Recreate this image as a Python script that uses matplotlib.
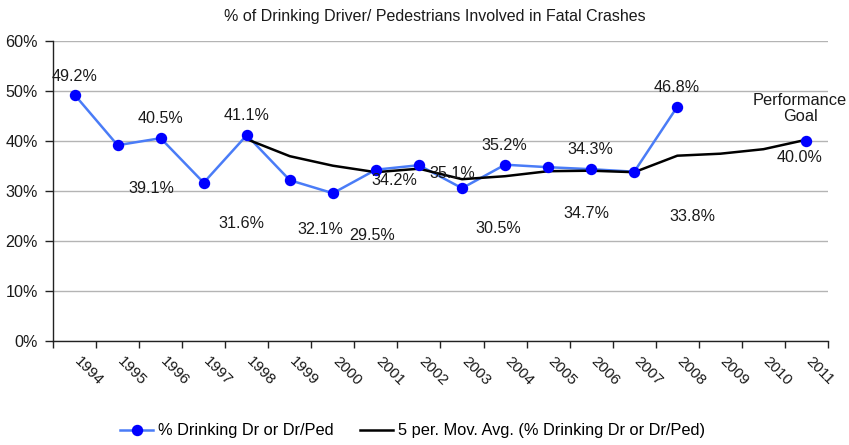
import numpy as np
import matplotlib
matplotlib.use("Agg")
import matplotlib.pyplot as plt
from matplotlib.lines import Line2D

plt.rcParams['font.family'] = ['Liberation Sans', 'DejaVu Sans']

years = [str(y) for y in range(1994, 2012)]
pct_drinking = [49.2, 39.1, 40.5, 31.6, 41.1, 32.1, 29.5, 34.2, 35.1, 30.5,
                35.2, 34.7, 34.3, 33.8, 46.8, np.nan, np.nan, 40.0]
mov_avg = [np.nan, np.nan, np.nan, np.nan, 40.3, 36.9, 35.0, 33.7, 34.4, 32.3,
           32.9, 33.9, 34.0, 33.7, 37.0, 37.4, 38.3, 40.2]
# data label text and placement (category index, percent)
label_texts = ["49.2%", "40.5%", "39.1%", "41.1%", "31.6%", "32.1%", "29.5%",
               "34.2%", "35.1%", "30.5%", "35.2%", "34.7%", "34.3%", "46.8%",
               "33.8%", "40.0%"]
label_x = [0.01, 1.99, 1.78, 3.99, 3.87, 5.71, 6.92, 7.43, 8.78, 9.85, 9.99,
           11.9, 11.97, 13.98, 14.36, 16.85]
label_y = [52.9, 44.5, 30.5, 45.1, 23.5, 22.3, 21.1, 32.0, 33.5, 22.5, 39.1,
           25.5, 38.3, 50.6, 24.9, 36.6]
yticks = [0, 10, 20, 30, 40, 50, 60]

fig = plt.figure(figsize=(8.49, 4.45), dpi=100)
ax = fig.add_axes([53/849, 1-340.7/445, 775/849, 300/445])

x = np.arange(len(years))
s = np.array(pct_drinking, dtype=float)
mask = np.isfinite(s)
ax.plot(x[:15], s[:15], color='#4a7cf7', lw=1.8, zorder=3)
ax.plot(x[mask], s[mask], ls='none', marker='o', ms=7.2, color='#0000ff', zorder=4)
ax.plot(x, mov_avg, color='black', lw=1.8, zorder=3.5)

for t, lx, ly in zip(label_texts, label_x, label_y):
    ax.text(lx, ly, t, ha='center', va='center', fontsize=11.6, color='#1a1a1a', zorder=5)
ax.text(16.85, 46.4, "Performance\nGoal", ha='center', va='center', fontsize=11.8,
        color='#1a1a1a', linespacing=1.05, zorder=5)

ax.set_xlim(-0.5, len(years) - 0.5)
ax.set_ylim(0, 60)
ax.set_yticks(yticks)
ax.set_yticklabels([f"{v}%" for v in yticks], fontsize=11.6, color='#1a1a1a')
ax.yaxis.grid(True, color='#b4b4b4', lw=1)
ax.set_axisbelow(True)

ax.set_xticks(x)
ax.set_xticklabels(years, rotation=-45, ha='left', va='top', fontsize=11,
                   color='#1a1a1a')
ax.tick_params(axis='x', which='major', length=0, pad=10)
for lab in ax.get_xticklabels():
    lab.set_x(lab.get_position()[0])
ax.set_xticks(np.arange(-0.5, len(years)), minor=True)
ax.tick_params(axis='x', which='minor', length=5, width=1, color='#222222', direction='out')
ax.tick_params(axis='y', length=6, width=1, color='#222222', pad=5)

# shift year labels slightly left to match reference anchoring
import matplotlib.transforms as mtransforms
offset = mtransforms.ScaledTranslation(-3/100, 0, fig.dpi_scale_trans)
for lab in ax.get_xticklabels():
    lab.set_transform(lab.get_transform() + offset)

for sp in ['top', 'right']:
    ax.spines[sp].set_visible(False)
for sp in ['left', 'bottom']:
    ax.spines[sp].set_color('#222222')
    ax.spines[sp].set_linewidth(1)

fig.text(0.512, 1-16/445, "% of Drinking Driver/ Pedestrians Involved in Fatal Crashes",
         ha='center', va='center', fontsize=11.5, color='#1a1a1a')

h1 = Line2D([], [], color='#4a7cf7', lw=1.8, marker='o', ms=7.2,
            markerfacecolor='#0000ff', markeredgecolor='#0000ff')
h2 = Line2D([], [], color='black', lw=1.8)
fig.legend([h1, h2], ['% Drinking Dr or Dr/Ped', '5 per. Mov. Avg. (% Drinking Dr or Dr/Ped)'],
           loc='center', bbox_to_anchor=(0.486, 1-431/445), ncol=2, frameon=False,
           fontsize=11.8, handlelength=2.0, handletextpad=0.3, columnspacing=1.6)

fig.savefig("out.png", dpi=100)
